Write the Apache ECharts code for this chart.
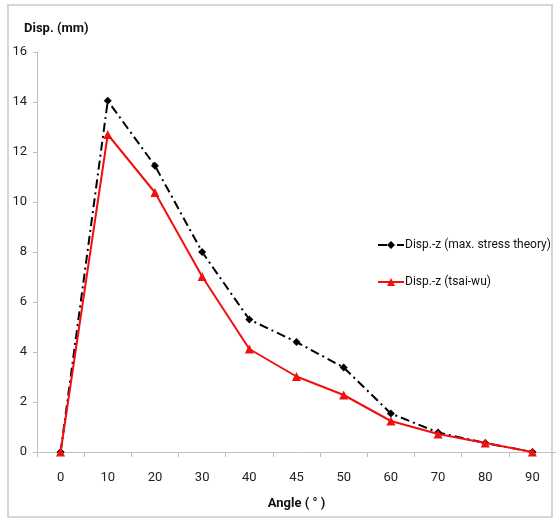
<!DOCTYPE html>
<html>
<head>
<meta charset="utf-8">
<script src="https://cdn.jsdelivr.net/npm/echarts@6/dist/echarts.min.js"></script>
<style>
  html, body { margin: 0; padding: 0; background: #fff; }
  #chart { width: 556px; height: 520px; }
</style>
</head>
<body>
<div id="chart"></div>
<script>
// Displacement along z versus fibre angle for two failure criteria
const angles = ['0', '10', '20', '30', '40', '45', '50', '60', '70', '80', '90'];
const maxStressDisp = [0, 14.05, 11.45, 8.0, 5.3, 4.4, 3.38, 1.54, 0.78, 0.36, 0];
const tsaiWuDisp = [0, 12.7, 10.38, 7.02, 4.12, 3.02, 2.28, 1.24, 0.72, 0.36, 0];
const seriesNames = ['Disp.-z (max. stress theory)', 'Disp.-z (tsai-wu)'];

const font = 'Roboto, "Liberation Sans", Arial, sans-serif';
const axisGray = '#bfbfbf';

const chart = echarts.init(document.getElementById('chart'), null, { renderer: 'canvas' });

chart.setOption({
  animation: false,
  backgroundColor: '#fff',
  textStyle: { fontFamily: font },
  title: {
    text: 'Disp. (mm)',
    left: 19,
    top: 17,
    textStyle: { fontFamily: font, fontSize: 13, fontWeight: 'bold', color: '#111' }
  },
  graphic: [{
    type: 'rect',
    shape: { x: 8, y: 5, width: 544, height: 512 },
    style: { fill: 'none', stroke: '#d6d6d6', lineWidth: 2 },
    silent: true
  }],
  grid: { left: 37, right: 0, top: 52, bottom: 68, containLabel: false },
  legend: {
    orient: 'vertical',
    left: 372,
    top: 234,
    itemGap: 25,
    itemWidth: 26,
    itemHeight: 10,
    textStyle: { fontFamily: font, fontSize: 12, color: '#111', padding: [0, 0, 0, -4] },
    data: seriesNames
  },
  xAxis: {
    type: 'category',
    data: angles,
    boundaryGap: true,
    name: 'Angle ( ° )',
    nameLocation: 'middle',
    nameGap: 45,
    nameTextStyle: { fontFamily: font, fontSize: 13, fontWeight: 'bold', color: '#111' },
    axisLine: { lineStyle: { color: axisGray, width: 1 } },
    axisTick: { show: true, alignWithLabel: false, length: 5, lineStyle: { color: axisGray } },
    axisLabel: { color: '#222', fontSize: 13, margin: 19, fontFamily: font },
    splitLine: { show: false }
  },
  yAxis: {
    type: 'value',
    min: 0,
    max: 16,
    interval: 2,
    axisLine: { show: true, lineStyle: { color: axisGray, width: 1 } },
    axisTick: { show: true, length: 4, lineStyle: { color: axisGray } },
    axisLabel: { color: '#222', fontSize: 13, margin: 10, fontFamily: font },
    splitLine: { show: false }
  },
  series: [
    {
      name: seriesNames[0],
      type: 'line',
      data: maxStressDisp,
      symbol: 'diamond',
      symbolSize: 8,
      showSymbol: true,
      itemStyle: { color: '#000' },
      lineStyle: { color: '#000', width: 2, type: [9, 4, 2, 4] },
      z: 2
    },
    {
      name: seriesNames[1],
      type: 'line',
      data: tsaiWuDisp,
      symbol: 'triangle',
      symbolSize: 9,
      showSymbol: true,
      itemStyle: { color: '#f01010' },
      lineStyle: { color: '#f01010', width: 2 },
      z: 3
    }
  ]
});
</script>
</body>
</html>
